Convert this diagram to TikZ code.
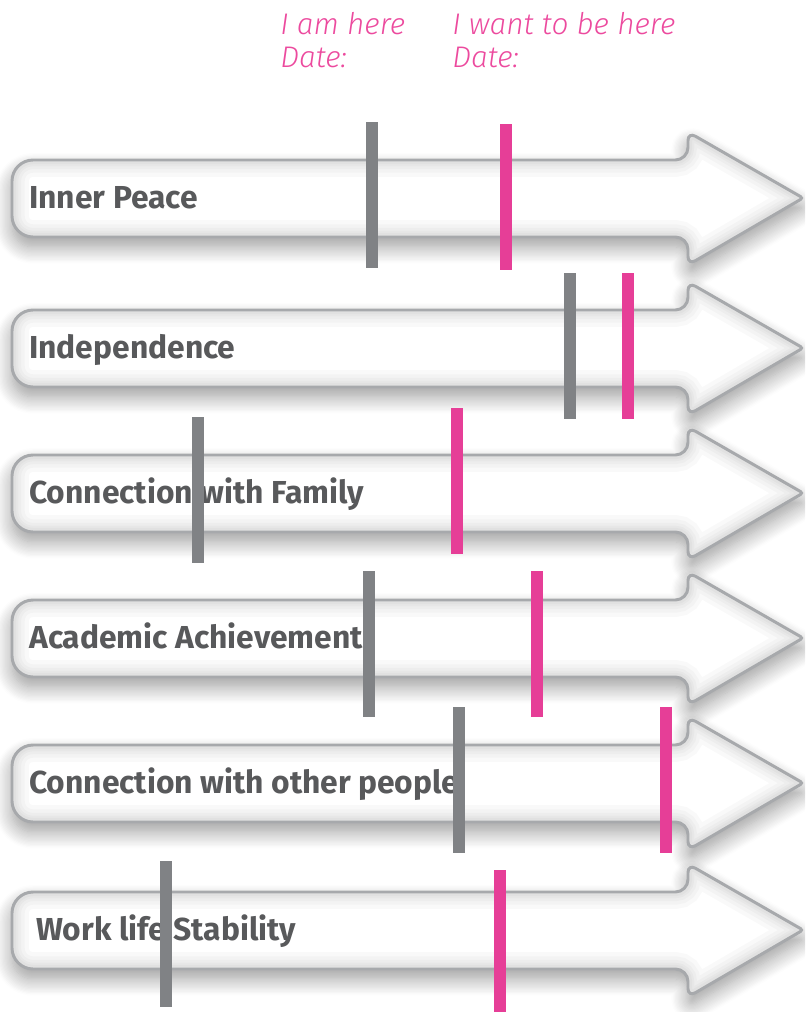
\documentclass[tikz,border=0pt]{standalone}
\usepackage{fontspec}
\setmainfont{Fira Sans}
\newfontfamily\labelfont{Fira Sans}
\newfontfamily\headfont{Fira Sans}[UprightFont=* Light, ItalicFont=* Light Italic]
\usetikzlibrary{shadows.blur}
\definecolor{arrowgray}{HTML}{A7A9AC}
\definecolor{labelgray}{HTML}{58595B}
\definecolor{bargray}{HTML}{808285}
\definecolor{barpink}{HTML}{E63E97}
\definecolor{headpink}{HTML}{EC4A9E}
\newcommand\arrowpath[1]{(300,#1-38) [rounded corners=9pt] -- (688,#1-38)
  [rounded corners=6pt] -- (688,#1-66) [rounded corners=2pt] -- (803,#1)
  [rounded corners=6pt] -- (688,#1+67) [rounded corners=9pt] -- (688,#1+39)
  [rounded corners=15pt] -- (12,#1+39) -- (12,#1-38) -- cycle}
\tikzset{
  lifearrow/.style={fill=white,
    blur shadow={shadow xshift=0pt, shadow yshift=-7pt, shadow blur radius=12pt,
      shadow blur steps=14, shadow opacity=40}},
  innerglow/.style={draw=black, draw opacity=0.025},
  arrowedge/.style={draw=arrowgray, line width=2.1pt},
  rowtext/.style={font=\labelfont\bfseries\fontsize{22.6}{26}\selectfont, text=labelgray, inner sep=0pt},
  headtext/.style={font=\headfont\itshape\fontsize{21.2}{26}\selectfont, text=headpink, inner sep=0pt},
  nowbar/.style={fill=bargray, inner sep=0pt, minimum width=0.3cm, minimum height=3.625cm},
  goalbar/.style={nowbar, fill=barpink}
}

\begin{document}
\begin{tikzpicture}[x=0.025cm, y=-0.025cm]
  \useasboundingbox (0,0) rectangle (805,1012);
  \clip (0,0) rectangle (805,1012);
  % header
  \node[headtext, anchor=base west] (HERE) at (280,35) {I am here};
  \node[headtext, anchor=base west] (HEREDATE) at (280,68) {Date:};
  \node[headtext, anchor=base west] (GOAL) at (452,35) {I want to be here};
  \node[headtext, anchor=base west] (GOALDATE) at (452,68) {Date:};
  % arrows with their labels
  \foreach \c/\x/\name/\txt in {198/29/IP/Inner Peace, 348/29/IND/Independence,
      493/29/FAM/Connection with Family, 638/29/ACA/Academic Achievement,
      783/29/OTH/Connection with other people, 930/36/WORK/Work life Stability}{
    \path[lifearrow] \arrowpath{\c};
    \begin{scope}
      \clip \arrowpath{\c};
      \foreach \w in {24,18,13,9,6}
        \draw[innerglow, line width=\w pt] \arrowpath{\c};
    \end{scope}
    \draw[arrowedge] \arrowpath{\c};
    \node[rowtext, anchor=base west] (\name) at (\x,\c+10) {\txt};
  }
  % where I am now / where I want to be
  \node[nowbar] (IPnow) at (372,195) {};
  \node[goalbar] (IPgoal) at (506,197) {};
  \node[nowbar] (INDnow) at (570,346) {};
  \node[goalbar] (INDgoal) at (628,346) {};
  \node[nowbar] (FAMnow) at (198,490) {};
  \node[goalbar] (FAMgoal) at (457,481) {};
  \node[nowbar] (ACAnow) at (369,644) {};
  \node[goalbar] (ACAgoal) at (537,644) {};
  \node[nowbar] (OTHnow) at (459,780) {};
  \node[goalbar] (OTHgoal) at (666,780) {};
  \node[nowbar] (WORKnow) at (166,934) {};
  \node[goalbar] (WORKgoal) at (500,943) {};
\end{tikzpicture}
\end{document}
